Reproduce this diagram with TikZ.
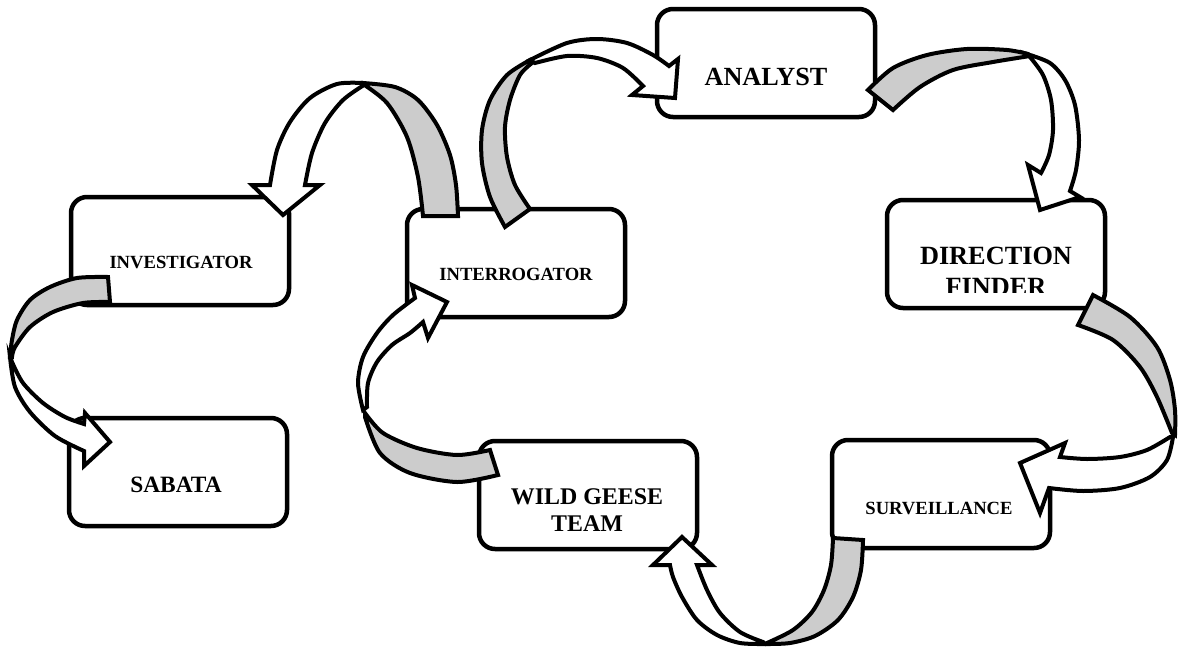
\documentclass[tikz,border=0pt]{standalone}
\usepackage{fontspec}
\setmainfont{Liberation Serif}
\begin{document}
\begin{tikzpicture}[x=1pt,y=-1pt,
    box/.style={draw,line width=4.5pt,rounded corners=16pt,fill=white,minimum width=218pt,minimum height=108pt,inner sep=0pt},
    lbl/.style={font=\bfseries\fontsize{18.6}{22}\selectfont,inner sep=0pt,anchor=base},
    back/.style={draw,line width=4pt,fill=black!20},
    front/.style={draw,line width=4pt,fill=white}]
        \useasboundingbox (0,0) rectangle (1178,648);
        % boxes
        \node[box] (investigator) at (180,251) {};
        \node[box] (sabata) at (178,472) {};
        \node[box] (interrogator) at (516,263) {};
        \node[box] (analyst) at (766,63) {};
        \node[box] (finder) at (996,254) {};
        \node[box] (surveillance) at (941,494) {};
        \node[box] (geese) at (588,495) {};
        % labels
        \node[lbl] (investigator_t) at (181,268) {INVESTIGATOR};
        \node[lbl,font=\bfseries\fontsize{23.4}{27}\selectfont] (sabata_t) at (176,492) {SABATA};
        \node[lbl] (interrogator_t) at (516,280) {INTERROGATOR};
        \node[lbl,font=\bfseries\fontsize{26.2}{31}\selectfont] (analyst_t) at (766,85) {ANALYST};
        \node[lbl] (surveillance_t) at (939,514) {SURVEILLANCE};
        \node[inner sep=0pt,anchor=north,align=center,font=\bfseries\fontsize{23.9}{27}\selectfont] (geese_t) at (587,488) {WILD GEESE\\TEAM};
        \begin{scope}
            \clip (880,190) rectangle (1110,292);
            \node[inner sep=0pt,anchor=north,align=center,font=\bfseries\fontsize{26.3}{31}\selectfont] (finder_t) at (996,247) {DIRECTION\\FINDER};
        \end{scope}
        % investigator -> sabata
        \draw[back] plot[smooth] coordinates {(108,277) (77,278) (50,287) (30,300) (17,320) (12,340) (10,357)}
            -- plot[smooth] coordinates {(12,357) (15,347) (30,327) (53,312) (83,303) (110,302)} -- cycle;
        \draw[front] plot[smooth] coordinates {(10,357) (15,387) (30,412) (55,436) (84,451)} -- (84,466) -- (110,442) -- (85,413)
            -- plot[smooth] coordinates {(84,424) (65,417) (43,403) (23,383) (12,362)} -- cycle;
        % interrogator -> investigator
        \draw[back] plot[smooth] coordinates {(458,216) (456,185) (450,155) (437,125) (418,100) (395,87) (363,83)}
            -- plot[smooth] coordinates {(363,84) (387,103) (407,137) (418,177) (423,216)} -- cycle;
        \draw[front] plot[smooth] coordinates {(363,83) (337,84) (310,98) (290,122) (277,150) (270,185)} -- (252,185) -- (283,215) -- (320,185)
            -- plot[smooth] coordinates {(305,185) (312,153) (325,123) (343,100) (364,85)} -- cycle;
        % interrogator -> analyst
        \draw[back] plot[smooth] coordinates {(505,227) (490,197) (482,163) (482,130) (490,100) (507,75) (530,60)}
            -- plot[smooth] coordinates {(532,63) (520,75) (510,100) (505,127) (507,157) (515,185) (530,209)} -- cycle;
        \draw[front] plot[smooth] coordinates {(530,60) (567,43) (597,39) (627,43) (653,55) (669,66)} -- (678,59) -- (675,98) -- (632,95)
            -- plot[smooth] coordinates {(643,86) (623,68) (597,58) (567,56) (535,63)} -- cycle;
        % analyst -> direction finder
        \draw[back] plot[smooth] coordinates {(868,90) (893,68) (927,55) (967,49) (1007,50) (1028,54)}
            -- plot[smooth] coordinates {(1030,56) (993,62) (953,70) (920,87) (893,110)} -- cycle;
        \draw[front] plot[smooth] coordinates {(1027,54) (1050,63) (1065,80) (1075,105) (1079,140) (1076,170) (1070,191)} -- (1080,197) -- (1040,210) -- (1028,165)
            -- plot[smooth] coordinates {(1041,173) (1049,155) (1053,130) (1051,100) (1043,75) (1030,57)} -- cycle;
        % direction finder -> surveillance
        \draw[back] plot[smooth] coordinates {(1093,295) (1130,317) (1157,347) (1170,380) (1175,410) (1175,435)}
            -- plot[smooth] coordinates {(1172,433) (1157,397) (1140,367) (1113,340) (1078,325)} -- cycle;
        \draw[front] plot[smooth] coordinates {(1173,437) (1167,460) (1150,477) (1120,488) (1083,491) (1049,488)} -- (1040,513) -- (1020,463) -- (1065,443)
            -- plot[smooth] coordinates {(1060,457) (1087,459) (1120,457) (1147,450) (1170,437)} -- cycle;
        % surveillance -> wild geese
        \draw[back] plot[smooth] coordinates {(863,540) (861,570) (853,597) (838,620) (815,636) (790,643) (767,644)}
            -- plot[smooth] coordinates {(767,643) (793,630) (812,612) (824,590) (831,565) (833,538)} -- cycle;
        \draw[front] plot[smooth] coordinates {(765,644) (740,643) (717,635) (697,620) (682,597) (673,577) (670,565)} -- (653,565) -- (682,537) -- (712,565)
            -- plot[smooth] coordinates {(697,565) (707,590) (720,613) (740,632) (763,642)} -- cycle;
        % wild geese -> interrogator
        \draw[back] plot[smooth] coordinates {(490,450) (457,455) (417,448) (383,433) (365,413)}
            -- plot[smooth] coordinates {(365,417) (380,453) (410,473) (457,482) (498,475)} -- cycle;
        \draw[front] plot[smooth] coordinates {(363,410) (358,383) (363,357) (377,333) (393,315) (415,298)} -- (412,285) -- (447,302) -- (428,338)
            -- plot[smooth] coordinates {(423,322) (410,333) (392,345) (377,362) (368,383) (367,407)} -- cycle;
      \end{tikzpicture}
\end{document}
